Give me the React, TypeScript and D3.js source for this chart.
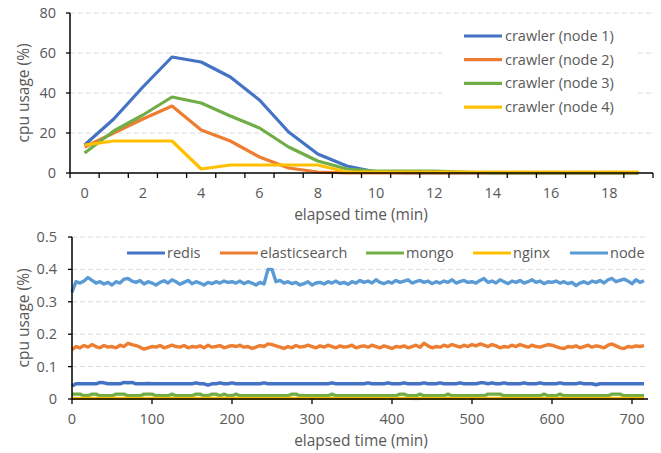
import React from "react";
import * as d3 from "d3";

// ---------- Top chart data ----------
const minutes = d3.range(0, 20);
const crawlerNames = ["crawler (node 1)", "crawler (node 2)", "crawler (node 3)", "crawler (node 4)"];
const node1 = [14, 27, 43, 58, 55.5, 48, 36.5, 20.5, 9.5, 3.5, 0.5, 0, 0, 0, 0, 0, 0, 0, 0, 0];
const node2 = [13, 20, 27, 33.5, 21.5, 16, 8, 2.5, 0.5, 0, 0, 0, 0, 0, 0, 0, 0, 0, 0, 0];
const node3 = [10, 21, 29, 38, 35, 28.5, 22.5, 13, 6, 2, 1, 1, 1, 0.5, 0, 0, 0, 0, 0, 0];
const node4 = [14, 16, 16, 16, 2, 4, 4, 4, 4, 0.5, 0.5, 0.5, 0.5, 0.5, 0.5, 0.5, 0.5, 0.5, 0.5, 0.5];
const topYTicks = [0, 20, 40, 60, 80];
const topXLabels = [0, 2, 4, 6, 8, 10, 12, 14, 16, 18];

// ---------- Bottom chart data (sampled every 5 min) ----------
const serviceNames = ["redis", "elasticsearch", "mongo", "nginx", "node"];
const redis = [
  0.04, 0.047, 0.047, 0.047, 0.047, 0.047, 0.047, 0.051, 0.05, 0.047, 0.047, 0.047, 0.047, 0.051, 0.05, 0.051, 0.047, 0.047, 0.047, 0.048,
  0.047, 0.047, 0.047, 0.047, 0.047, 0.047, 0.047, 0.047, 0.047, 0.047, 0.047, 0.05, 0.047, 0.047, 0.043, 0.047, 0.047, 0.05, 0.047, 0.047,
  0.05, 0.047, 0.047, 0.047, 0.047, 0.047, 0.047, 0.047, 0.05, 0.047, 0.047, 0.047, 0.047, 0.047, 0.047, 0.047, 0.047, 0.047, 0.047, 0.047,
  0.047, 0.047, 0.047, 0.047, 0.047, 0.05, 0.047, 0.047, 0.047, 0.047, 0.047, 0.047, 0.047, 0.047, 0.05, 0.047, 0.047, 0.047, 0.047, 0.05,
  0.047, 0.047, 0.047, 0.05, 0.047, 0.047, 0.047, 0.047, 0.05, 0.047, 0.047, 0.047, 0.05, 0.047, 0.047, 0.047, 0.047, 0.05, 0.047, 0.047,
  0.047, 0.047, 0.05, 0.05, 0.047, 0.05, 0.047, 0.047, 0.05, 0.047, 0.047, 0.047, 0.047, 0.05, 0.047, 0.047, 0.047, 0.05, 0.047, 0.047,
  0.047, 0.047, 0.05, 0.047, 0.047, 0.047, 0.047, 0.05, 0.047, 0.047, 0.047, 0.044, 0.047, 0.047, 0.047, 0.047, 0.047, 0.047, 0.047, 0.047,
  0.047, 0.047, 0.047, 0.047,
];
const elasticsearch = [
  0.152, 0.162, 0.158, 0.165, 0.16, 0.168, 0.162, 0.158, 0.165, 0.16, 0.162, 0.158, 0.166, 0.162, 0.172, 0.168, 0.165, 0.16, 0.154, 0.158,
  0.162, 0.16, 0.165, 0.158, 0.162, 0.166, 0.162, 0.16, 0.165, 0.158, 0.162, 0.16, 0.164, 0.158, 0.166, 0.16, 0.162, 0.165, 0.158, 0.162,
  0.165, 0.162, 0.166, 0.16, 0.162, 0.156, 0.16, 0.165, 0.162, 0.17, 0.168, 0.164, 0.16, 0.156, 0.162, 0.158, 0.165, 0.16, 0.162, 0.166,
  0.162, 0.158, 0.164, 0.16, 0.166, 0.162, 0.158, 0.164, 0.16, 0.162, 0.166, 0.158, 0.162, 0.164, 0.16, 0.166, 0.162, 0.158, 0.164, 0.16,
  0.156, 0.162, 0.16, 0.164, 0.158, 0.162, 0.166, 0.16, 0.172, 0.164, 0.158, 0.162, 0.16, 0.166, 0.162, 0.168, 0.164, 0.16, 0.166, 0.162,
  0.168, 0.164, 0.17, 0.166, 0.162, 0.168, 0.164, 0.158, 0.162, 0.16, 0.166, 0.162, 0.168, 0.164, 0.16, 0.166, 0.162, 0.16, 0.164, 0.168,
  0.166, 0.162, 0.158, 0.156, 0.162, 0.16, 0.164, 0.158, 0.162, 0.166, 0.16, 0.164, 0.162, 0.158, 0.166, 0.17, 0.164, 0.158, 0.156, 0.162,
  0.16, 0.164, 0.162, 0.165,
];
const mongo = [
  0.015, 0.015, 0.015, 0.01, 0.01, 0.015, 0.015, 0.01, 0.01, 0.01, 0.01, 0.015, 0.015, 0.015, 0.01, 0.01, 0.01, 0.01, 0.015, 0.015,
  0.015, 0.01, 0.01, 0.01, 0.01, 0.015, 0.01, 0.01, 0.01, 0.01, 0.01, 0.015, 0.015, 0.01, 0.01, 0.015, 0.015, 0.01, 0.015, 0.01,
  0.01, 0.015, 0.01, 0.01, 0.01, 0.01, 0.01, 0.01, 0.01, 0.01, 0.01, 0.01, 0.01, 0.01, 0.01, 0.015, 0.015, 0.01, 0.01, 0.01,
  0.01, 0.01, 0.01, 0.01, 0.01, 0.015, 0.01, 0.01, 0.01, 0.01, 0.01, 0.01, 0.01, 0.01, 0.01, 0.01, 0.01, 0.01, 0.01, 0.01,
  0.01, 0.01, 0.015, 0.015, 0.01, 0.01, 0.01, 0.015, 0.01, 0.01, 0.01, 0.01, 0.01, 0.01, 0.015, 0.01, 0.01, 0.01, 0.01, 0.01,
  0.01, 0.01, 0.01, 0.01, 0.015, 0.015, 0.015, 0.015, 0.01, 0.01, 0.01, 0.01, 0.01, 0.01, 0.01, 0.01, 0.01, 0.01, 0.015, 0.01,
  0.01, 0.01, 0.015, 0.01, 0.01, 0.01, 0.01, 0.01, 0.01, 0.01, 0.01, 0.01, 0.01, 0.01, 0.01, 0.015, 0.015, 0.015, 0.01, 0.01,
  0.01, 0.01, 0.01, 0.01,
];
const nginx = [
  0.002, 0.002, 0.002, 0.002, 0.002, 0.002, 0.002, 0.002, 0.002, 0.002, 0.002, 0.002, 0.002, 0.002, 0.002, 0.002, 0.002, 0.002, 0.002, 0.002,
  0.002, 0.002, 0.002, 0.002, 0.002, 0.002, 0.002, 0.002, 0.002, 0.002, 0.002, 0.002, 0.002, 0.002, 0.002, 0.002, 0.002, 0.002, 0.002, 0.002,
  0.002, 0.002, 0.002, 0.002, 0.002, 0.002, 0.002, 0.002, 0.002, 0.002, 0.002, 0.002, 0.002, 0.002, 0.002, 0.002, 0.002, 0.002, 0.002, 0.002,
  0.002, 0.002, 0.002, 0.002, 0.002, 0.002, 0.002, 0.002, 0.002, 0.002, 0.002, 0.002, 0.002, 0.002, 0.002, 0.002, 0.002, 0.002, 0.002, 0.002,
  0.002, 0.002, 0.002, 0.002, 0.002, 0.002, 0.001, 0.002, 0.002, 0.002, 0.002, 0.002, 0.002, 0.002, 0.002, 0.002, 0.002, 0.002, 0.002, 0.002,
  0.002, 0.002, 0.002, 0.002, 0.002, 0.002, 0.002, 0.002, 0.002, 0.002, 0.002, 0.002, 0.002, 0.002, 0.002, 0.002, 0.002, 0.002, 0.002, 0.002,
  0.002, 0.002, 0.002, 0.002, 0.002, 0.002, 0.002, 0.002, 0.002, 0.002, 0.002, 0.002, 0.002, 0.002, 0.002, 0.002, 0.002, 0.002, 0.002, 0.002,
  0.002, 0.002, 0.002, 0.002,
];
const nodeSvc = [
  0.33, 0.362, 0.358, 0.364, 0.375, 0.366, 0.358, 0.362, 0.355, 0.36, 0.352, 0.362, 0.358, 0.37, 0.372, 0.364, 0.36, 0.366, 0.355, 0.362,
  0.358, 0.352, 0.36, 0.365, 0.358, 0.368, 0.362, 0.354, 0.36, 0.366, 0.356, 0.362, 0.358, 0.352, 0.36, 0.356, 0.362, 0.358, 0.364, 0.36,
  0.362, 0.358, 0.364, 0.356, 0.362, 0.358, 0.352, 0.36, 0.355, 0.4, 0.4, 0.362, 0.366, 0.358, 0.362, 0.356, 0.36, 0.352, 0.356, 0.362,
  0.352, 0.358, 0.36, 0.355, 0.362, 0.358, 0.364, 0.356, 0.36, 0.354, 0.362, 0.358, 0.366, 0.36, 0.364, 0.358, 0.368, 0.36, 0.356, 0.362,
  0.358, 0.366, 0.36, 0.364, 0.368, 0.358, 0.362, 0.366, 0.36, 0.364, 0.356, 0.362, 0.358, 0.364, 0.36, 0.368, 0.358, 0.362, 0.366, 0.36,
  0.362, 0.358, 0.366, 0.372, 0.36, 0.364, 0.358, 0.368, 0.362, 0.356, 0.364, 0.36, 0.366, 0.358, 0.362, 0.368, 0.36, 0.364, 0.356, 0.362,
  0.36, 0.364, 0.358, 0.362, 0.356, 0.36, 0.35, 0.358, 0.362, 0.356, 0.364, 0.36, 0.366, 0.358, 0.368, 0.372, 0.362, 0.366, 0.37, 0.364,
  0.356, 0.368, 0.36, 0.365,
];
const sampleStep = 5;
const botYTicks = [0, 0.1, 0.2, 0.3, 0.4, 0.5];
const botXTicks = [0, 100, 200, 300, 400, 500, 600, 700];

const crawlerColors = ["#4472C4", "#ED7D31", "#70AD47", "#FFC000"];
const serviceColors = ["#4472C4", "#ED7D31", "#70AD47", "#FFC000", "#5B9BD5"];
const FONT = "'Open Sans', sans-serif";
const TXT = "#595959";
const GRID = "#D9D9D9";
const TICK_FS = 14.5;
const TITLE_FS = 15.5;
const LEG_FS = 14.5;

export default function App() {
  // Top chart
  const tx = d3.scaleBand<number>().domain(minutes).range([70, 653]);
  const ty = d3.scaleLinear().domain([0, 80]).range([173, 13]);
  const cx = (m: number) => (tx(m) as number) + tx.bandwidth() / 2;
  const topLine = d3
    .line<number>()
    .x((_, i) => cx(minutes[i]))
    .y((v) => ty(v));
  const crawlerSeries = [node1, node2, node3, node4];

  // Bottom chart
  const bx = d3.scaleLinear().domain([0, 720]).range([72, 648]);
  const by = d3.scaleLinear().domain([0, 0.5]).range([399, 237]);
  const botLine = d3
    .line<number>()
    .x((_, i) => bx(i * sampleStep))
    .y((v) => by(v));
  const serviceSeries = [redis, elasticsearch, mongo, nginx, nodeSvc];

  const boundaries = d3.range(0, 21).map((i) => 70 + i * tx.step());
  const legendX = [127, 220, 366, 473, 570];

  return (
    <svg
      width={661}
      height={453}
      style={{ position: "absolute", left: 0, top: 0, background: "#fff" }}
      fontFamily={FONT}
    >
      <rect width={661} height={453} fill="#fff" />
      {/* ---------- TOP ---------- */}
      {topYTicks.map((t) => (
        <g key={"tg" + t}>
          {t > 0 && (
            <line x1={70} x2={653} y1={ty(t)} y2={ty(t)} stroke={GRID} strokeWidth={1} strokeDasharray="5,3" />
          )}
          <line x1={66} x2={70} y1={ty(t)} y2={ty(t)} stroke="#000" strokeWidth={1.3} />
          <text x={56} y={ty(t)} dy="0.35em" textAnchor="end" fontSize={TICK_FS} fill={TXT}>
            {t}
          </text>
        </g>
      ))}
      {/* legend background */}
      <rect x={442} y={22} width={193} height={100} fill="#fff" />
      {crawlerSeries.map((s, k) => (
        <path key={"cs" + k} d={topLine(s) || ""} fill="none" stroke={crawlerColors[k]} strokeWidth={3.2} strokeLinejoin="round" />
      ))}
      <line x1={70} x2={70} y1={13} y2={173} stroke="#000" strokeWidth={1.5} />
      <line x1={70} x2={653} y1={173} y2={173} stroke="#000" strokeWidth={1.5} />
      {boundaries.map((b, i) => (
        <line key={"tb" + i} x1={b} x2={b} y1={173} y2={178} stroke="#000" strokeWidth={1.3} />
      ))}
      {topXLabels.map((m) => (
        <text key={"tx" + m} x={cx(m)} y={193} dy="0.35em" textAnchor="middle" fontSize={TICK_FS} fill={TXT}>
          {m}
        </text>
      ))}
      <text x={361} y={215} dy="0.35em" textAnchor="middle" fontSize={TITLE_FS} fill={TXT}>
        elapsed time (min)
      </text>
      <text transform={`translate(24,${ty(40)}) rotate(-90)`} dy="0.35em" textAnchor="middle" fontSize={TITLE_FS} fill={TXT}>
        cpu usage (%)
      </text>
      {crawlerNames.map((n, k) => (
        <g key={"tl" + k} transform={`translate(464,${36 + k * 23.7})`}>
          <line x1={0} x2={38} y1={0} y2={0} stroke={crawlerColors[k]} strokeWidth={3.2} />
          <text x={41} y={0} dy="0.35em" fontSize={LEG_FS} fill={TXT}>
            {n}
          </text>
        </g>
      ))}

      {/* ---------- BOTTOM ---------- */}
      {botYTicks.map((t) => (
        <g key={"bg" + t}>
          {t > 0 && (
            <line x1={72} x2={648} y1={by(t)} y2={by(t)} stroke={GRID} strokeWidth={1} strokeDasharray="5,3" />
          )}
          <line x1={68} x2={72} y1={by(t)} y2={by(t)} stroke="#000" strokeWidth={1.3} />
          <text x={57} y={by(t)} dy="0.35em" textAnchor="end" fontSize={TICK_FS} fill={TXT}>
            {t === 0 ? "0" : t.toFixed(1)}
          </text>
        </g>
      ))}
      {serviceSeries.map((s, k) => (
        <path key={"ss" + k} d={botLine(s) || ""} fill="none" stroke={serviceColors[k]} strokeWidth={3.4} strokeLinejoin="round" />
      ))}
      <line x1={72} x2={72} y1={237} y2={399} stroke="#000" strokeWidth={1.5} />
      <line x1={72} x2={648} y1={399} y2={399} stroke="#000" strokeWidth={1.5} />
      {botXTicks.map((t) => (
        <g key={"bx" + t}>
          <line x1={bx(t)} x2={bx(t)} y1={399} y2={404} stroke="#000" strokeWidth={1.3} />
          <text x={bx(t)} y={419} dy="0.35em" textAnchor="middle" fontSize={TICK_FS} fill={TXT}>
            {t}
          </text>
        </g>
      ))}
      <text x={361} y={441} dy="0.35em" textAnchor="middle" fontSize={TITLE_FS} fill={TXT}>
        elapsed time (min)
      </text>
      <text transform={`translate(24,${by(0.25)}) rotate(-90)`} dy="0.35em" textAnchor="middle" fontSize={TITLE_FS} fill={TXT}>
        cpu usage (%)
      </text>
      {serviceNames.map((n, k) => (
        <g key={"bl" + k} transform={`translate(${legendX[k]},253)`}>
          <line x1={0} x2={38} y1={0} y2={0} stroke={serviceColors[k]} strokeWidth={3.2} />
          <text x={40} y={0} dy="0.35em" fontSize={LEG_FS} fill={TXT}>
            {n}
          </text>
        </g>
      ))}
    </svg>
  );
}
